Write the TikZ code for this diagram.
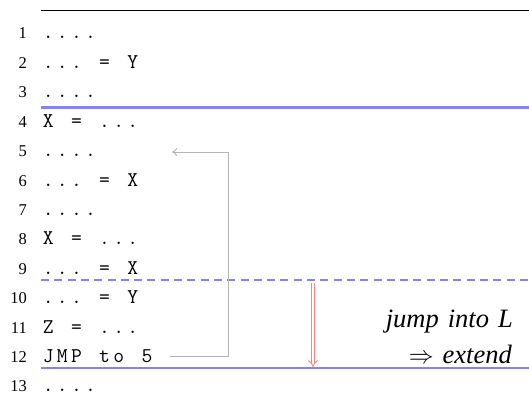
\documentclass[tikz,border=0pt]{standalone}
\usepackage{fontspec}
\setmainfont{Liberation Serif}
\newfontfamily\codefont{Latin Modern Mono}
\newfontfamily\notefont[WordSpace=1.36]{Liberation Serif}
\usetikzlibrary{arrows.meta}

% set a code line on a fixed column grid, one cell per character
\newlength{\codecol}
\setlength{\codecol}{14.1pt}
\ExplSyntaxOn
\NewDocumentCommand{\codecells}{m}
  { \str_map_inline:nn {#1} { \makebox[\codecol]{##1} } }
\ExplSyntaxOff

\definecolor{rulecol}{RGB}{130,130,255}
\definecolor{jumpcol}{RGB}{180,180,180}
\definecolor{extcol}{RGB}{255,130,130}

\tikzset{
  lineno/.style={anchor=base east, inner sep=0pt, font=\fontsize{16.5}{18}\selectfont},
  codeline/.style={anchor=base west, inner sep=0pt, font=\fontsize{21}{22}\codefont},
  note/.style={anchor=base east, inner sep=0pt, font=\fontsize{26.5}{28}\notefont\itshape},
  toprule/.style={black, line width=1pt},
  blockrule/.style={rulecol, line width=2.3pt},
  blockcut/.style={rulecol, line width=2.3pt, dash pattern=on 8pt off 5.3pt},
  jumpline/.style={jumpcol, line width=0.9pt, -{To[length=5pt,width=8pt]}},
  extarrow/.style={extcol, line width=0.9pt, double, double distance=2.6pt, -{Implies}}
}

% one numbered listing row: number and code text on a common baseline
\newcommand{\listrow}[2]{%
  \node[lineno] (n#1) at (27,{39+(#1-1)*29.4}) {#1};
  \node[codeline] (c#1) at (41,{39+(#1-1)*29.4}) {\codecells{#2}};
}

\begin{document}
\begin{tikzpicture}[x=1pt,y=-1pt]
\useasboundingbox (0,0) rectangle (529,401);

% numbered program listing
\listrow{1}{....}
\listrow{2}{... = Y}
\listrow{3}{....}
\listrow{4}{X = ...}
\listrow{5}{....}
\listrow{6}{... = X}
\listrow{7}{....}
\listrow{8}{X = ...}
\listrow{9}{... = X}
\listrow{10}{... = Y}
\listrow{11}{Z = ...}
\listrow{12}{JMP to 5}
\listrow{13}{....}

% rules around the loop block
\coordinate (topL) at (41,11);   \coordinate (topR) at (529,11);
\coordinate (b1L) at (41,107.5); \coordinate (b1R) at (529,107.5);
\coordinate (b2L) at (41,280);   \coordinate (b2R) at (529,280);
\coordinate (b3L) at (41,368);   \coordinate (b3R) at (529,368);
\draw[toprule] (topL) -- (topR);
\draw[blockrule] (b1L) -- (b1R);
\draw[blockcut] (b2L) -- (b2R);
\draw[blockrule] (b3L) -- (b3R);

% backward jump from line 12 to line 5
\coordinate (jfrom) at (170,356);
\coordinate (jto) at (172,152);
\draw[jumpline] (jfrom) -- (228,356) -- (228,152) -- (jto);

% extension of the block end
\coordinate (xfrom) at (313,283);
\coordinate (xto) at (313,367);
\draw[extarrow] (xfrom) -- (xto);

\node[note] (j1) at (513,327) {jump into L};
\node[note] (j2) at (512,363) {$\Rightarrow$ extend};
\end{tikzpicture}
\end{document}
